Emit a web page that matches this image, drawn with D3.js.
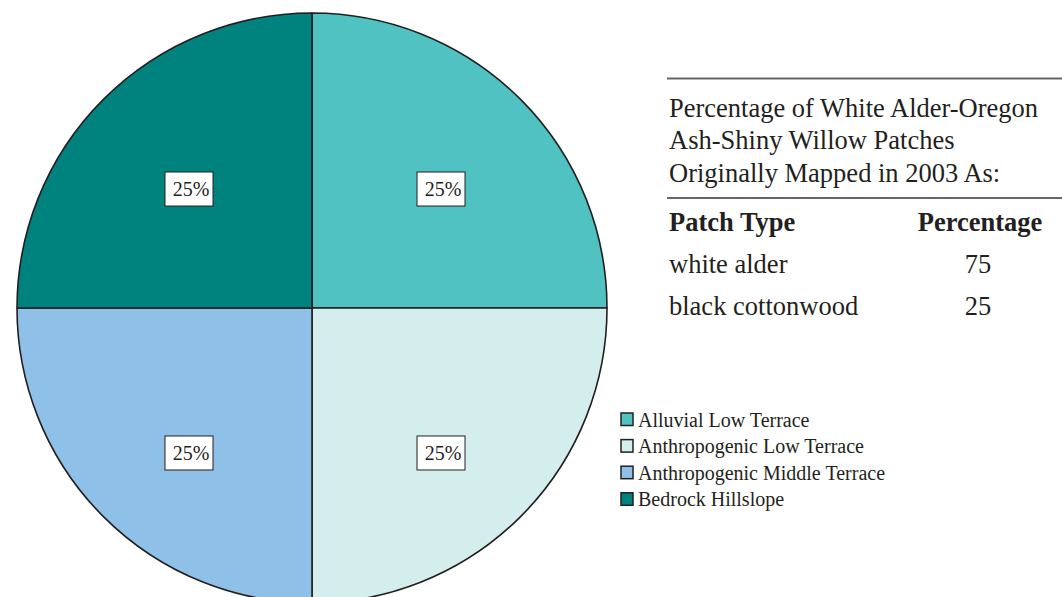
<!DOCTYPE html>
<html>
<head>
<meta charset="utf-8">
<script src="https://cdn.jsdelivr.net/npm/d3@7"></script>
<style>
  html, body { margin: 0; padding: 0; background: #fff; }
  svg { display: block; }
  text { font-family: "Liberation Serif", "Times New Roman", serif; fill: #231f20; }
</style>
</head>
<body>
<svg id="chart" width="1062" height="597"></svg>
<script>
// ---- data ----
const categories = ["Alluvial Low Terrace", "Anthropogenic Low Terrace", "Anthropogenic Middle Terrace", "Bedrock Hillslope"];
const values = [25, 25, 25, 25];
const colors = ["#50c2c2", "#d4eded", "#8fc0e8", "#00827f"];
const tableTitle = ["Percentage of White Alder-Oregon", "Ash-Shiny Willow Patches", "Originally Mapped in 2003 As:"];
const tableHeader = ["Patch Type", "Percentage"];
const patchTypes = ["white alder", "black cottonwood"];
const patchPercents = [75, 25];

// ---- layout ----
const svg = d3.select("#chart");
const cx = 312, cy = 308, r = 295;

const pie = d3.pie().sort(null).value(d => d.value);
const arc = d3.arc().innerRadius(0).outerRadius(r);
const labelArc = d3.arc().innerRadius(180).outerRadius(180);
const data = categories.map((c, i) => ({ name: c, value: values[i], color: colors[i] }));
const arcs = pie(data);

const g = svg.append("g").attr("transform", `translate(${cx},${cy})`);
g.selectAll("path.slice").data(arcs).join("path")
  .attr("class", "slice")
  .attr("d", arc)
  .attr("fill", d => d.data.color)
  .attr("stroke", "#231f20")
  .attr("stroke-width", 1.6)
  .attr("stroke-linejoin", "round");

const total = d3.sum(values);
const lab = g.selectAll("g.lab").data(arcs).join("g")
  .attr("class", "lab")
  .attr("transform", d => { const [x, y] = labelArc.centroid(d); return `translate(${x * 0.99 + 3},${y * 1.037 + 13})`; });
lab.append("rect")
  .attr("x", -24).attr("y", -17).attr("width", 48).attr("height", 34)
  .attr("fill", "#fff").attr("stroke", "#231f20").attr("stroke-width", 1);
lab.append("text")
  .attr("text-anchor", "middle").attr("x", 2).attr("y", 7)
  .style("font-size", "20px")
  .text(d => Math.round(d.data.value / total * 100) + "%");

// ---- legend ----
const leg = svg.append("g").attr("transform", "translate(621,413)");
const li = leg.selectAll("g").data(data).join("g")
  .attr("transform", (d, i) => `translate(0,${i * 26.6})`);
li.append("rect").attr("width", 12).attr("height", 12.5)
  .attr("fill", d => d.color).attr("stroke", "#231f20").attr("stroke-width", 1.5);
li.append("text").attr("x", 17).attr("y", 13.5)
  .style("font-size", "20px").text(d => d.name);

// ---- table ----
const fs = "26.5px";
const tg = svg.append("g");
tg.append("line").attr("x1", 667).attr("x2", 1062).attr("y1", 78.5).attr("y2", 78.5)
  .attr("stroke", "#666").attr("stroke-width", 2.2);
tg.append("line").attr("x1", 667).attr("x2", 1062).attr("y1", 198).attr("y2", 198)
  .attr("stroke", "#666").attr("stroke-width", 2.2);
tg.selectAll("text.title").data(tableTitle).join("text")
  .attr("class", "title").attr("x", 669).attr("y", (d, i) => 116.5 + i * 32.5)
  .style("font-size", fs).text(d => d);
tg.append("text").attr("x", 669).attr("y", 231)
  .style("font-size", fs).style("font-weight", "bold").text(tableHeader[0]);
tg.append("text").attr("x", 980).attr("y", 231).attr("text-anchor", "middle")
  .style("font-size", fs).style("font-weight", "bold").text(tableHeader[1]);
tg.selectAll("text.pt").data(patchTypes).join("text")
  .attr("class", "pt").attr("x", 669).attr("y", (d, i) => 273 + i * 41.5)
  .style("font-size", fs).text(d => d);
tg.selectAll("text.pp").data(patchPercents).join("text")
  .attr("class", "pp").attr("x", 978).attr("y", (d, i) => 273 + i * 41.5)
  .attr("text-anchor", "middle")
  .style("font-size", fs).text(d => d);
</script>
</body>
</html>
